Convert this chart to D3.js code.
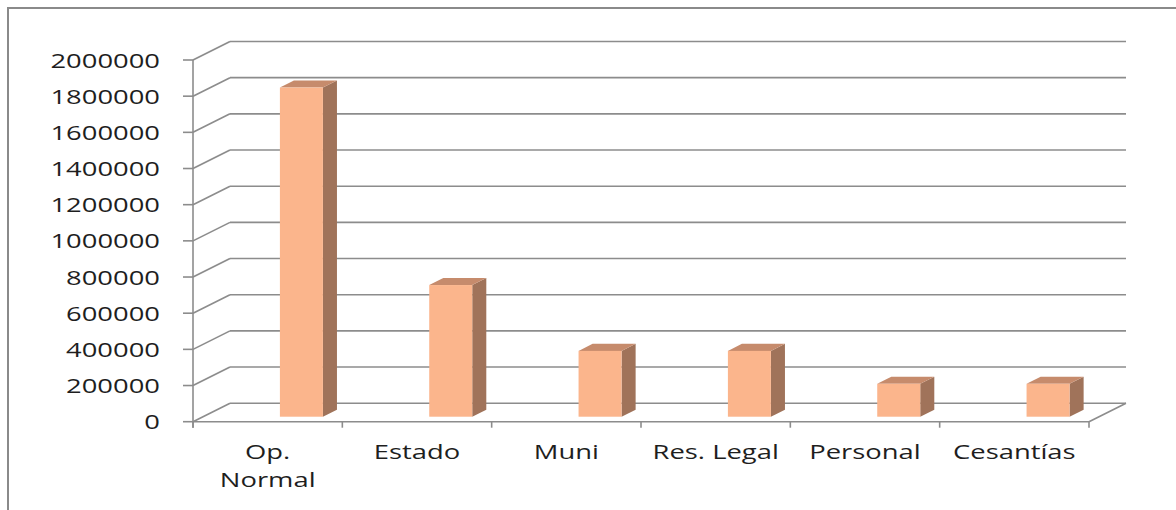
<!DOCTYPE html>
<html>
<head>
<meta charset="utf-8">
<script src="https://cdn.jsdelivr.net/npm/d3@7"></script>
<style>
  html, body { margin: 0; padding: 0; background: #ffffff; }
  svg { display: block; }
  text { font-family: "Open Sans", "Noto Sans", sans-serif; fill: #1e1e1e; }
</style>
</head>
<body>
<svg id="chart" width="1176" height="510"></svg>
<script>
// ---- data ----
const categories = ["Op. Normal", "Estado", "Muni", "Res. Legal", "Personal", "Cesantías"];
const categoryLabelLines = [["Op.", "Normal"], ["Estado"], ["Muni"], ["Res. Legal"], ["Personal"], ["Cesantías"]];
const values = [1820000, 728000, 364000, 364000, 182000, 182000];
const yTicks = [0, 200000, 400000, 600000, 800000, 1000000, 1200000, 1400000, 1600000, 1800000, 2000000];

// ---- layout ----
const W = 1176, H = 510;
const svg = d3.select("#chart");
const gridColor = "#8c8c8c";
const depth = { dx: 37, dy: -18.5 };        // full depth of the 3D box
const barFront = 0.27, barBack = 0.65;       // bar depth fractions
const textScaleX = 1.37;

const x = d3.scaleBand().domain(categories).range([193, 1089]).paddingInner(0).paddingOuter(0);
const y = d3.scaleLinear().domain([0, 2000000]).range([421.7, 60]);

// outer frame
svg.append("rect")
  .attr("x", 8).attr("y", 8).attr("width", 1300).attr("height", 700)
  .attr("fill", "none").attr("stroke", "#8a8a8a").attr("stroke-width", 2);

const g = svg.append("g");

// back wall gridlines + side wall diagonals
const x0 = x.range()[0], x1 = x.range()[1];
yTicks.forEach(t => {
  const yy = y(t);
  g.append("line")
    .attr("x1", x0).attr("y1", yy)
    .attr("x2", x0 + depth.dx).attr("y2", yy + depth.dy)
    .attr("stroke", gridColor).attr("stroke-width", 1.6);
  g.append("line")
    .attr("x1", x0 + depth.dx).attr("y1", yy + depth.dy)
    .attr("x2", x1 + depth.dx).attr("y2", yy + depth.dy)
    .attr("stroke", gridColor).attr("stroke-width", 1.6);
});

// floor: front edge and right diagonal
g.append("line")
  .attr("x1", x0).attr("y1", y(0)).attr("x2", x1).attr("y2", y(0))
  .attr("stroke", gridColor).attr("stroke-width", 1.6);
g.append("line")
  .attr("x1", x1).attr("y1", y(0)).attr("x2", x1 + depth.dx).attr("y2", y(0) + depth.dy)
  .attr("stroke", gridColor).attr("stroke-width", 1.6);

// y axis line and ticks
g.append("line")
  .attr("x1", x0).attr("y1", y(2000000)).attr("x2", x0).attr("y2", y(0) + 6)
  .attr("stroke", gridColor).attr("stroke-width", 1.6);
yTicks.forEach(t => {
  g.append("line")
    .attr("x1", x0 - 10).attr("y1", y(t)).attr("x2", x0).attr("y2", y(t))
    .attr("stroke", gridColor).attr("stroke-width", 1.6);
});
// category ticks
const bounds = categories.map(c => x(c)).concat([x1]);
bounds.forEach(b => {
  g.append("line")
    .attr("x1", b).attr("y1", y(0)).attr("x2", b).attr("y2", y(0) + 6)
    .attr("stroke", gridColor).attr("stroke-width", 1.6);
});

// bars
const bw = x.bandwidth();
const barOffset = bw * 0.515;   // front-left corner relative to band start (before depth shift)
const barWidth = bw * 0.288;
const fdx = depth.dx * barFront, fdy = depth.dy * barFront;
const bdx = depth.dx * (barBack - barFront), bdy = depth.dy * (barBack - barFront);

const bars = g.append("g");
categories.forEach((c, i) => {
  const v = values[i];
  const left = x(c) + barOffset + fdx;
  const right = left + barWidth;
  const bottom = y(0) + fdy;
  const top = y(v) + fdy;
  bars.append("polygon")
    .attr("points", [[right, top], [right + bdx, top + bdy], [right + bdx, bottom + bdy], [right, bottom]].map(p => p.join(",")).join(" "))
    .attr("fill", "#a0735a");
  bars.append("polygon")
    .attr("points", [[left, top], [left + bdx, top + bdy], [right + bdx, top + bdy], [right, top]].map(p => p.join(",")).join(" "))
    .attr("fill", "#c68b6c");
  bars.append("rect")
    .attr("x", left).attr("y", top).attr("width", barWidth).attr("height", bottom - top)
    .attr("fill", "#fbb58c");
});

// y labels
yTicks.forEach(t => {
  svg.append("text")
    .attr("transform", `translate(160,${y(t) + 7.5}) scale(${textScaleX},1)`)
    .attr("text-anchor", "end")
    .style("font-size", "20px")
    .text(d3.format("d")(t));
});

// category labels
categories.forEach((c, i) => {
  const cx = x(c) + bw / 2;
  categoryLabelLines[i].forEach((line, j) => {
    svg.append("text")
      .attr("transform", `translate(${cx},${459 + j * 28}) scale(${textScaleX},1)`)
      .attr("text-anchor", "middle")
      .style("font-size", "20px")
      .text(line);
  });
});
</script>
</body>
</html>
